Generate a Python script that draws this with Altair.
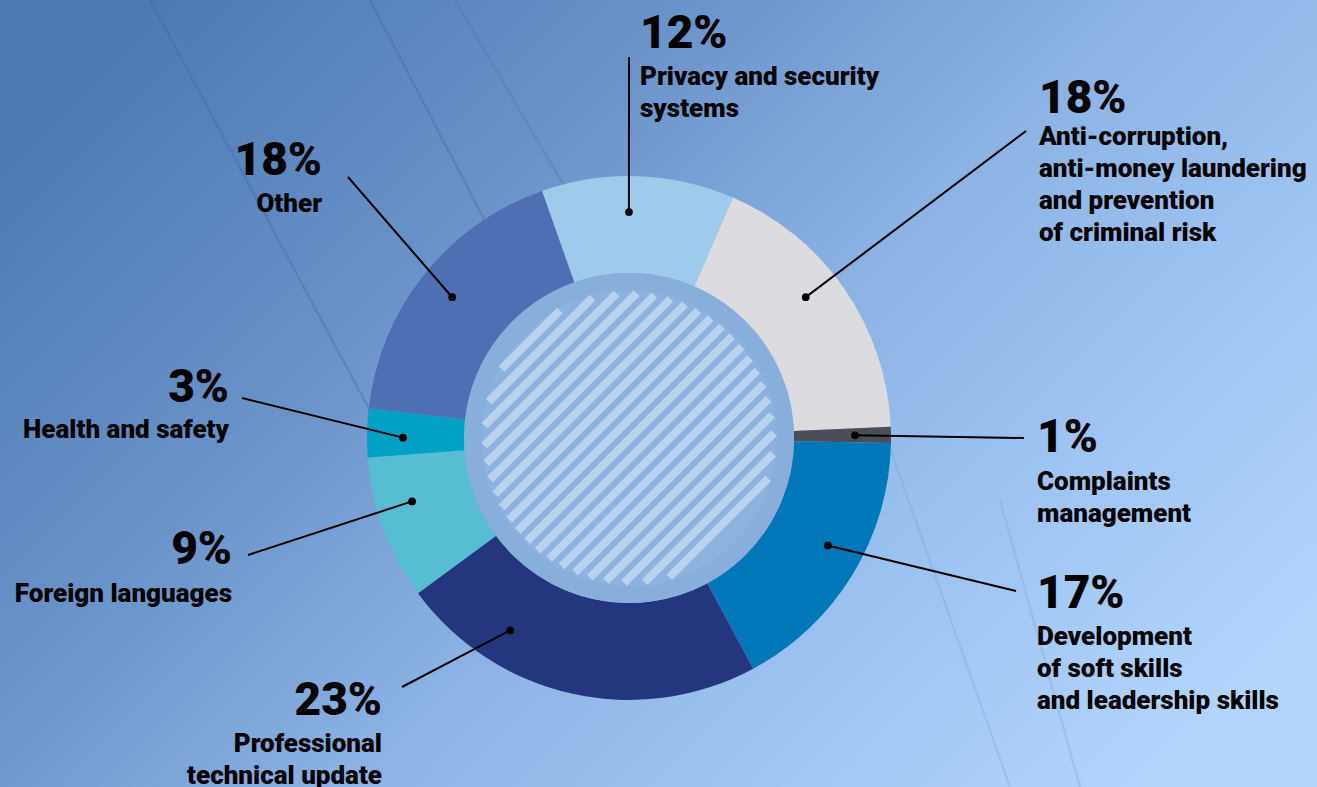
import math
import numpy as np
import pandas as pd
import altair as alt

# ---------------- data ----------------
categories = [
    "Privacy and security systems",
    "Anti-corruption, anti-money laundering and prevention of criminal risk",
    "Complaints management",
    "Development of soft skills and leadership skills",
    "Professional technical update",
    "Foreign languages",
    "Health and safety",
    "Other",
]
label_text = [
    "Privacy and security\nsystems",
    "Anti-corruption,\nanti-money laundering\nand prevention\nof criminal risk",
    "Complaints\nmanagement",
    "Development\nof soft skills\nand leadership skills",
    "Professional\ntechnical update",
    "Foreign languages",
    "Health and safety",
    "Other",
]
values = [12, 18, 1, 17, 23, 9, 3, 18]
colors = ["#9ecbeb", "#dcdbe0", "#4b4d57", "#0077b9", "#24377e", "#56bdd3", "#00a1c5", "#4e6fb4"]

# ---------------- layout (positions / styles) ----------------
W, H = 1317, 787
CX, CY = 629, 438
R_OUT, R_IN, R_RING, R_DOT = 262, 165, 148, 226
START_DEG = -19.4

pct_x = [640, 1039, 1037, 1037, 382, 232, 229, 322]
pct_y = [48, 113, 452, 608, 715, 564, 402, 175]
lbl_y = [85, 145, 490, 645, 752, 602, 438, 212]
align = ["left", "left", "left", "left", "right", "right", "right", "right"]
line_end_x = [629, 1026, 1024, 1016, 402, 248, 242, 348]
line_end_y = [57, 131, 438, 591, 687, 555, 398, 177]
dot_shift_deg = [-2, -4, 0, -3, 19, 4, -1, 0]

total = sum(values)
cum = np.cumsum(values)
mid_deg = [START_DEG + (c - v / 2) / total * 360 + s for c, v, s in zip(cum, values, dot_shift_deg)]
dot_x = [CX + R_DOT * math.sin(math.radians(a)) for a in mid_deg]
dot_y = [CY - R_DOT * math.cos(math.radians(a)) for a in mid_deg]

pie_df = pd.DataFrame({"category": categories, "value": values, "idx": list(range(len(values)))})
lab_df = pd.DataFrame({
    "category": categories,
    "pct": [f"{v}%" for v in values],
    "label": label_text,
    "px": pct_x, "py": pct_y, "ly": lbl_y, "align": align,
    "dx": dot_x, "dy": dot_y, "ex": line_end_x, "ey": line_end_y,
})

xs = alt.Scale(domain=[0, W], range=[0, W], nice=False, zero=False)
ys = alt.Scale(domain=[0, H], range=[0, H], nice=False, zero=False)

# ---------------- background ----------------
bg = alt.Chart(pd.DataFrame({"a": [0]})).mark_rect(
    color=alt.Gradient(
        gradient="linear", x1=0, y1=0.2, x2=1, y2=0.8,
        stops=[
            alt.GradientStop(offset=0, color="#4e79b3"),
            alt.GradientStop(offset=0.3, color="#6a93c9"),
            alt.GradientStop(offset=0.55, color="#8cb3e4"),
            alt.GradientStop(offset=0.8, color="#a2c7f5"),
            alt.GradientStop(offset=1, color="#b3d5fc"),
        ],
    )
).encode(x=alt.value(0), x2=alt.value(W), y=alt.value(0), y2=alt.value(H))

streak_df = pd.DataFrame({
    "x": [150, 370, 455, 880, 1000],
    "y": [0, 0, 0, 420, 500],
    "x2": [450, 620, 760, 1010, 1080],
    "y2": [560, 480, 520, 787, 787],
    "c": ["#3d659c", "#3d659c", "#4a73aa", "#7ea3d4", "#7ea3d4"],
})
streaks = alt.Chart(streak_df).mark_rule(strokeWidth=2.5, opacity=0.3).encode(
    x=alt.X("x:Q", scale=xs, axis=None), y=alt.Y("y:Q", scale=ys, axis=None),
    x2="x2:Q", y2="y2:Q", color=alt.Color("c:N", scale=None),
)

# ---------------- donut ----------------
start_rad = math.radians(START_DEG)
donut = alt.Chart(pie_df).mark_arc(outerRadius=R_OUT, innerRadius=R_IN, stroke=None).encode(
    theta=alt.Theta("value:Q", stack=True, scale=alt.Scale(range=[start_rad, start_rad + 2 * math.pi])),
    color=alt.Color("category:N", scale=alt.Scale(domain=categories, range=colors), legend=None),
    order=alt.Order("idx:Q"),
    x=alt.value(CX), y=alt.value(CY),
)

ring = alt.Chart(pd.DataFrame({"a": [0]})).mark_arc(
    outerRadius=R_IN, innerRadius=R_RING, theta=0, theta2=2 * math.pi, color="#88aedc"
).encode(x=alt.value(CX), y=alt.value(CY))
disk = alt.Chart(pd.DataFrame({"a": [0]})).mark_arc(
    outerRadius=R_RING, innerRadius=0, theta=0, theta2=2 * math.pi, color="#8db2e0"
).encode(x=alt.value(CX), y=alt.value(CY))

# hatch stripes inside the inner disk (decoration)
sp, r_h = 14, R_RING - 3
rows = []
for d in np.arange(-r_h + 6, r_h - 5, sp):
    L = math.sqrt(max(r_h ** 2 - d ** 2, 0))
    nx, ny = d / math.sqrt(2), d / math.sqrt(2)
    tx, ty = 1 / math.sqrt(2), -1 / math.sqrt(2)
    rows.append({"x": CX + nx - L * tx, "y": CY + ny - L * ty, "x2": CX + nx + L * tx, "y2": CY + ny + L * ty})
hatch = alt.Chart(pd.DataFrame(rows)).mark_rule(strokeWidth=8, color="#c4daf1", opacity=0.8, strokeCap="butt").encode(
    x=alt.X("x:Q", scale=xs, axis=None), y=alt.Y("y:Q", scale=ys, axis=None), x2="x2:Q", y2="y2:Q",
)

# ---------------- leaders ----------------
leaders = alt.Chart(lab_df).mark_rule(strokeWidth=2, color="black").encode(
    x=alt.X("dx:Q", scale=xs, axis=None), y=alt.Y("dy:Q", scale=ys, axis=None), x2="ex:Q", y2="ey:Q",
)
dots = alt.Chart(lab_df).mark_circle(size=60, color="black", opacity=1).encode(
    x=alt.X("dx:Q", scale=xs, axis=None), y=alt.Y("dy:Q", scale=ys, axis=None),
)

# ---------------- texts ----------------
def texts(al):
    base = alt.Chart(lab_df).transform_filter(alt.datum.align == al)
    pct = base.mark_text(align=al, baseline="alphabetic", font="Roboto", fontSize=46,
                         fontWeight=900, color="black").encode(
        x=alt.X("px:Q", scale=xs, axis=None), y=alt.Y("py:Q", scale=ys, axis=None), text="pct:N")
    lbl = base.mark_text(align=al, baseline="alphabetic", font="Roboto", fontSize=26,
                         fontWeight=900, color="black", lineBreak="\n", lineHeight=32).encode(
        x=alt.X("px:Q", scale=xs, axis=None), y=alt.Y("ly:Q", scale=ys, axis=None), text="label:N")
    return [pct, lbl]

chart = alt.layer(
    bg, streaks, donut, ring, disk, hatch, leaders, dots, *texts("left"), *texts("right")
).properties(
    width=W, height=H, padding=0, autosize=alt.AutoSizeParams(type="none")
).configure_view(stroke=None).configure(background="#6f98cc")

chart.save("out.html", embed_options={"renderer": "svg", "actions": False})
